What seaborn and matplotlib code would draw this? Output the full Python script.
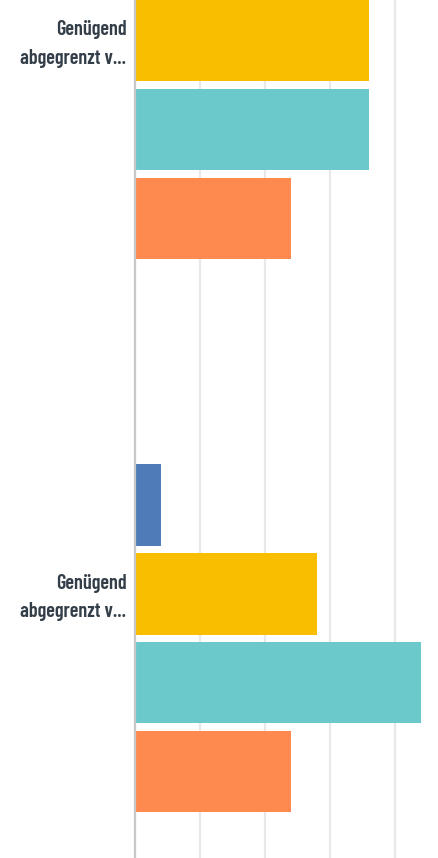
import matplotlib
matplotlib.use("Agg")
import matplotlib.pyplot as plt
import pandas as pd
import seaborn as sns

# two survey questions (same truncated label), four answer options each
questions = ["Frage 1", "Frage 2"]
question_labels = ["Genügend\nabgegrenzt v...", "Genügend\nabgegrenzt v..."]
answers = ["Antwort 1", "Antwort 2", "Antwort 3", "Antwort 4"]
answer_colors = ["#4f7cb8", "#f9be00", "#6bc8cb", "#ff8a50"]
share_q1 = [4, 36, 36, 24]
share_q2 = [4, 28, 44, 24]
grid_ticks = [0, 10, 20, 30, 40]

df = pd.DataFrame({
    "question": [q for q in questions for _ in answers],
    "answer": answers * len(questions),
    "percent": share_q1 + share_q2,
})

sns.set_style("white")
plt.rcParams["font.family"] = ["Barlow Condensed", "DejaVu Sans"]

fig = plt.figure(figsize=(4.39, 8.58), dpi=100)
ax = fig.add_axes([0.307, 0.0, 0.693, 1.0])

sns.barplot(
    data=df, x="percent", y="question", hue="answer",
    order=questions, hue_order=answers, palette=answer_colors,
    orient="h", width=0.643, gap=0.086, saturation=1,
    errorbar=None, linewidth=0, legend=False, ax=ax,
)

ax.set_xlim(0, 46.7)
ax.set_ylim(1.397, -0.154)
ax.set_xticks(grid_ticks)
ax.xaxis.grid(True, color="#e8e8e8", linewidth=1.6)
ax.set_axisbelow(True)
ax.tick_params(axis="x", length=0, labelbottom=False)

# label sits next to the second bar of each group, nudged up a little
slot = 0.643 / len(answers)
ax.set_yticks([i - 0.5 * slot - 0.006 for i in range(len(questions))])
ax.set_yticklabels(question_labels, fontsize=14.6, fontweight=600,
                   color="#333e48", linespacing=1.65)
ax.tick_params(axis="y", length=0, pad=6)

ax.set_xlabel("")
ax.set_ylabel("")
for side in ["top", "right", "bottom"]:
    ax.spines[side].set_visible(False)
ax.spines["left"].set_color("#c8c8c8")
ax.spines["left"].set_linewidth(1.6)

fig.savefig("out.png", dpi=100)
